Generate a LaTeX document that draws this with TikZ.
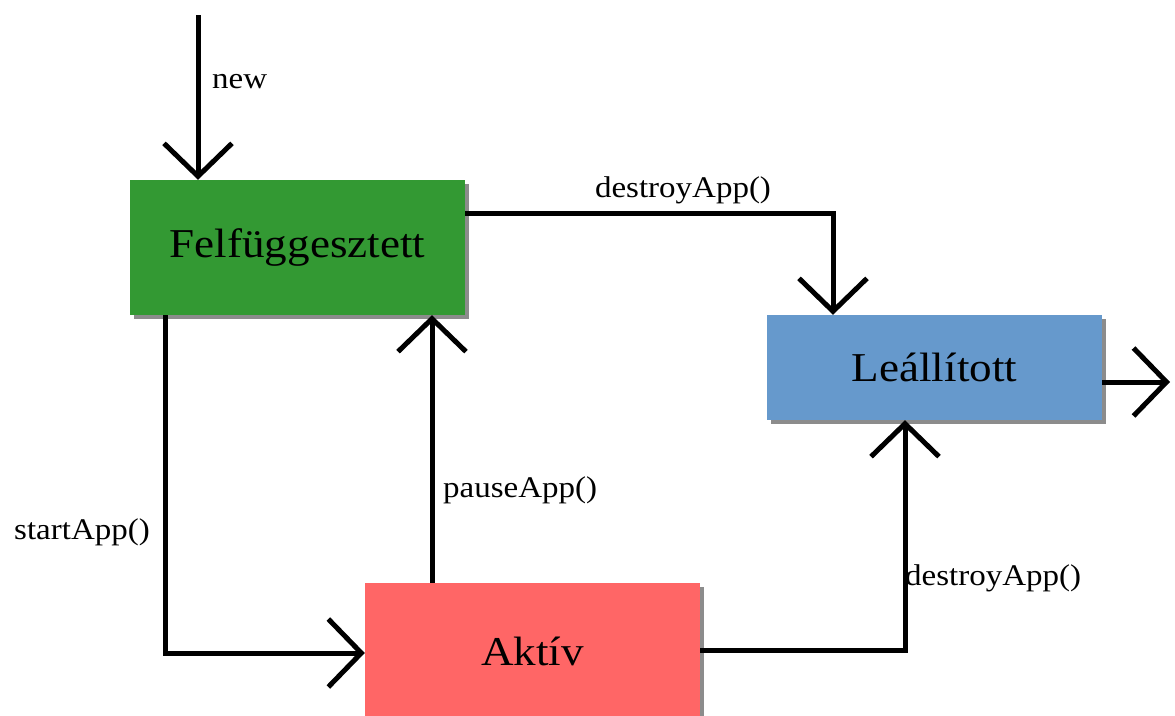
\documentclass[tikz,border=0pt]{standalone}
\usepackage{fontspec}
\setmainfont[FakeStretch=1.1]{Liberation Serif}
\usetikzlibrary{arrows.meta,shadows}
\definecolor{fgreen}{HTML}{339933}
\definecolor{lblue}{HTML}{6699CC}
\definecolor{ared}{HTML}{FF6666}
\tikzset{
  statebox/.style={rectangle, minimum width=335pt, inner sep=0pt,
    drop shadow={shadow xshift=4pt, shadow yshift=-4pt, opacity=0.45, fill=black},
    font=\fontsize{41}{45}\selectfont},
  conn/.style={line width=5pt, black, -{Straight Barb[length=33pt,width=68pt,line width=5pt]}},
  lbl/.style={font=\fontsize{30}{34}\selectfont, inner sep=0pt}
}
\begin{document}
\begin{tikzpicture}[x=1pt,y=-1pt]
\useasboundingbox (0,0) rectangle (1175,715);
\node[statebox, fill=fgreen, minimum height=135pt] (green) at (297.5,247.5)
  {Felfüggesztett};
\node[statebox, fill=lblue, minimum height=105pt] (blue) at (934.5,367.5)
  {Leállított};
\node[statebox, fill=ared, minimum height=136pt] (red) at (532.5,651)
  {Aktív};

\coordinate (newstart) at (198,15);
\coordinate (d1) at (833,213);
\coordinate (s1) at (165,653);
\coordinate (p1) at (432,450);
\coordinate (d2) at (905,650);
\coordinate (exitend) at (1170,382);

\draw[conn] (newstart) -- (newstart |- green.north);
\node[lbl, anchor=west] (lnew) at (212,82) {new};

\draw[conn] (green.east |- d1) -| (d1 |- blue.north);
\node[lbl] (ldes1) at (683,190) {destroyApp()};

\draw[conn] (s1 |- green.south) |- (red.west |- s1);
\node[lbl, anchor=east] (lstart) at (150,532) {startApp()};

\draw[conn] (p1 |- red.north) -- (p1 |- green.south);
\node[lbl, anchor=west] (lpause) at (443,490) {pauseApp()};

\draw[conn] (red.east |- d2) -| (d2 |- blue.south);
\node[lbl, anchor=west] (ldes2) at (905,578) {destroyApp()};

\draw[conn] (blue.east |- exitend) -- (exitend);
\end{tikzpicture}
\end{document}
